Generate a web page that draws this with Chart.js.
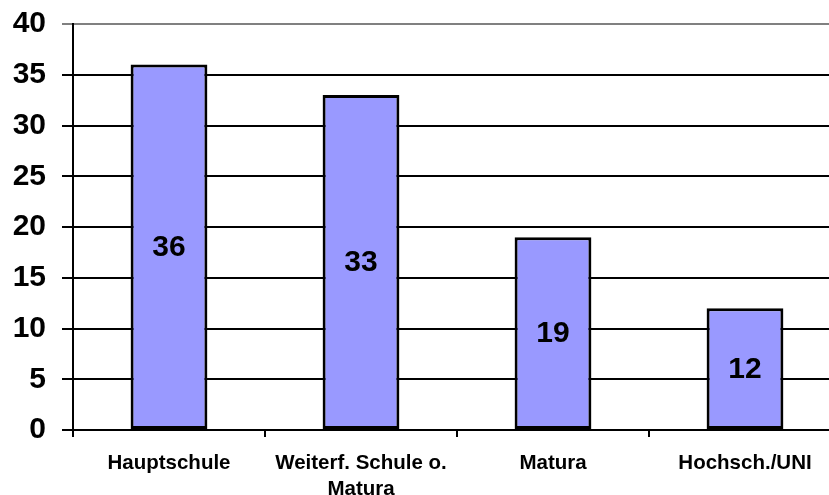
<!DOCTYPE html>
<html>
<head>
<meta charset="utf-8">
<script src="https://cdn.jsdelivr.net/npm/chart.js@4"></script>
<style>
  html, body { margin: 0; padding: 0; overflow: hidden; background: #fff; }
  #wrap { position: absolute; left: 0; top: 0; width: 841px; height: 495px; }
</style>
</head>
<body>
<div id="wrap"><canvas id="myChart"></canvas></div>
<script>
const categories = ['Hauptschule', ['Weiterf. Schule o.', 'Matura'], 'Matura', 'Hochsch./UNI'];
const values = [36, 33, 19, 12];
const yTicks = [0, 5, 10, 15, 20, 25, 30, 35, 40];

const fontFamily = '"Liberation Sans", Arial, sans-serif';

// draws the value in the middle of every bar
const barValues = {
  id: 'barValues',
  afterDatasetsDraw(chart) {
    const ctx = chart.ctx;
    const meta = chart.getDatasetMeta(0);
    ctx.save();
    ctx.font = 'bold 30px ' + fontFamily;
    ctx.fillStyle = '#000';
    ctx.textAlign = 'center';
    ctx.textBaseline = 'middle';
    meta.data.forEach((bar, i) => {
      ctx.fillText(values[i], bar.x, (bar.y + bar.base) / 2 + 1);
    });
    ctx.restore();
  }
};

const ctx = document.getElementById('myChart');
const config = {
  type: 'bar',
  data: {
    labels: categories,
    datasets: [{
      data: values,
      backgroundColor: '#9999FF',
      borderColor: '#000',
      borderWidth: 3,
      borderSkipped: false,
      barPercentage: 0.4,
      categoryPercentage: 1
    }]
  },
  options: {
    responsive: true,
    maintainAspectRatio: false,
    animation: false,
    layout: { padding: { top: 24, right: 0, left: 0, bottom: 0 } },
    plugins: {
      legend: { display: false },
      tooltip: { enabled: false }
    },
    scales: {
      x: {
        offset: true,
        grid: {
          offset: true,
          drawOnChartArea: false,
          drawTicks: true,
          tickLength: 7,
          color: '#000',
          lineWidth: 2
        },
        border: { color: '#000', width: 2 },
        ticks: {
          color: '#000',
          padding: 14,
          maxRotation: 0,
          autoSkip: false,
          font: { family: fontFamily, size: 20.5, weight: 'bold', lineHeight: 1.25 }
        },
        afterFit(scale) { scale.height = 65; }
      },
      y: {
        min: 0,
        max: 40,
        afterBuildTicks(scale) { scale.ticks = yTicks.map(v => ({ value: v })); },
        grid: {
          color: c => (c.tick && c.tick.value === 40 ? '#808080' : '#000'),
          lineWidth: 2,
          tickLength: 11,
          drawTicks: true
        },
        border: { color: '#000', width: 2 },
        ticks: {
          color: '#000',
          padding: 16,
          font: { family: fontFamily, size: 30, weight: 'bold' }
        },
        afterFit(scale) {
          scale.width = 73;
          scale.paddingTop = 0;
          scale.paddingBottom = 0;
        }
      }
    }
  },
  plugins: [barValues]
};

new Chart(ctx, config);
</script>
</body>
</html>
